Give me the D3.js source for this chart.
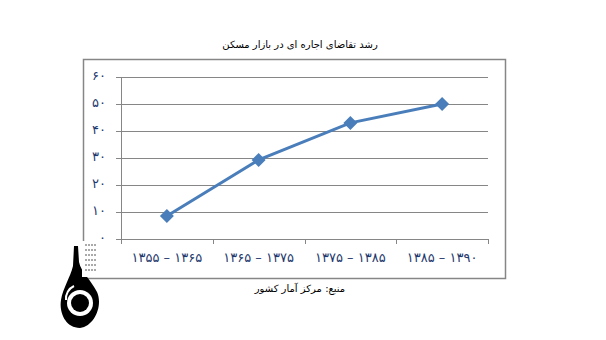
<!DOCTYPE html>
<html>
<head>
<meta charset="utf-8">
<script src="https://cdn.jsdelivr.net/npm/d3@7"></script>
<style>
  body { margin: 0; background: #fff; }
  svg text { font-family: "DejaVu Sans", "Noto Sans", sans-serif; }
</style>
</head>
<body>
<svg id="chart" width="606" height="340"></svg>
<script>
"use strict";

// Data
const CATEGORIES = ["۱۳۵۵ – ۱۳۶۵", "۱۳۶۵ – ۱۳۷۵", "۱۳۷۵ – ۱۳۸۵", "۱۳۸۵ – ۱۳۹۰"];
const VALUES = [8.5, 29.3, 43, 50];
const Y_TICKS = [0, 10, 20, 30, 40, 50, 60];
const Y_TICK_LABELS = ["۰", "۱۰", "۲۰", "۳۰", "۴۰", "۵۰", "۶۰"];
const TITLE = "رشد تقاضای اجاره ای در بازار مسکن";
const SOURCE = "منبع: مرکز آمار کشور";

// Layout
const PLOT = { left: 121, right: 488, top: 77, bottom: 239 };
const LINE_COLOR = "#4a7ebb";
const GRID_COLOR = "#868686";

const svg = d3.select("#chart");

// Outer chart border
svg.append("rect")
  .attr("x", 83.5).attr("y", 59.5)
  .attr("width", 422).attr("height", 219)
  .attr("fill", "#fff")
  .attr("stroke", GRID_COLOR)
  .attr("stroke-width", 1.5);

// Scales
const x = d3.scaleBand().domain(CATEGORIES).range([PLOT.left, PLOT.right]).padding(0);
const y = d3.scaleLinear().domain([0, 60]).range([PLOT.bottom, PLOT.top]);

// Gridlines
svg.append("g").selectAll("line")
  .data(Y_TICKS)
  .join("line")
  .attr("x1", PLOT.left).attr("x2", PLOT.right)
  .attr("y1", d => Math.round(y(d)) + 0.5).attr("y2", d => Math.round(y(d)) + 0.5)
  .attr("stroke", GRID_COLOR).attr("stroke-width", 1);

// Y axis line with small ticks
svg.append("line")
  .attr("x1", PLOT.left + 0.5).attr("x2", PLOT.left + 0.5)
  .attr("y1", PLOT.top).attr("y2", PLOT.bottom + 5)
  .attr("stroke", GRID_COLOR);

svg.append("g").selectAll("line")
  .data(Y_TICKS)
  .join("line")
  .attr("x1", PLOT.left - 5).attr("x2", PLOT.left)
  .attr("y1", d => Math.round(y(d)) + 0.5).attr("y2", d => Math.round(y(d)) + 0.5)
  .attr("stroke", GRID_COLOR);

// Y tick labels
svg.append("g").selectAll("text")
  .data(Y_TICKS)
  .join("text")
  .attr("x", 106)
  .attr("y", d => y(d) - 1)
  .attr("dominant-baseline", "middle")
  .attr("text-anchor", "end")
  .attr("font-size", 13)
  .attr("fill", "#1f3a6e")
  .text((d, i) => Y_TICK_LABELS[i]);

// X category ticks (boundaries)
const boundaries = CATEGORIES.map(c => x(c)).concat([PLOT.right]);
svg.append("g").selectAll("line")
  .data(boundaries)
  .join("line")
  .attr("x1", d => Math.round(d) + 0.5).attr("x2", d => Math.round(d) + 0.5)
  .attr("y1", PLOT.bottom).attr("y2", PLOT.bottom + 5)
  .attr("stroke", GRID_COLOR);

// X labels
svg.append("g").selectAll("text")
  .data(CATEGORIES)
  .join("text")
  .attr("x", d => x(d) + x.bandwidth() / 2)
  .attr("y", 262)
  .attr("text-anchor", "middle")
  .attr("direction", "ltr")
  .attr("font-size", 13)
  .attr("fill", "#1f3a6e")
  .text(d => d);

// Line
const line = d3.line()
  .x((d, i) => x(CATEGORIES[i]) + x.bandwidth() / 2)
  .y(d => y(d));

svg.append("path")
  .datum(VALUES)
  .attr("fill", "none")
  .attr("stroke", LINE_COLOR)
  .attr("stroke-width", 3)
  .attr("d", line);

// Diamond markers
svg.append("g").selectAll("path")
  .data(VALUES)
  .join("path")
  .attr("transform", (d, i) => "translate(" + (x(CATEGORIES[i]) + x.bandwidth() / 2) + "," + y(d) + ")")
  .attr("d", "M0,-7L7,0L0,7L-7,0Z")
  .attr("fill", LINE_COLOR);

// Title
svg.append("text")
  .attr("x", 300).attr("y", 48)
  .attr("text-anchor", "middle")
  .attr("font-size", 10)
  .attr("fill", "#000")
  .text(TITLE);

// Source
svg.append("text")
  .attr("x", 300).attr("y", 292)
  .attr("text-anchor", "middle")
  .attr("font-size", 10)
  .attr("fill", "#000")
  .text(SOURCE);

// Logo (decorative)
const logo = svg.append("g");
logo.append("path")
  .attr("d", "M74,246 L78,246 L79,262 C81,272 91,280 97,292 C103,305 95,326 80,328 C65,328 59,312 61,300 C63,288 70,278 73,266 Z")
  .attr("fill", "#000");
logo.append("path")
  .attr("d", "M66,300 A14,14 0 0 1 74,286")
  .attr("fill", "none").attr("stroke", "#fff").attr("stroke-width", 2);
logo.append("circle").attr("cx", 80).attr("cy", 303).attr("r", 13).attr("fill", "#fff");
logo.append("circle").attr("cx", 80).attr("cy", 303).attr("r", 9).attr("fill", "#000");
logo.append("rect")
  .attr("x", 82).attr("y", 241).attr("width", 18).attr("height", 36)
  .attr("fill", "#fff");
logo.append("g").selectAll("line")
  .data([245, 250, 255, 260, 265, 270])
  .join("line")
  .attr("x1", 85).attr("x2", 97)
  .attr("y1", d => d).attr("y2", d => d)
  .attr("stroke", "#555").attr("stroke-width", 1).attr("stroke-dasharray", "2,1");
</script>
</body>
</html>
